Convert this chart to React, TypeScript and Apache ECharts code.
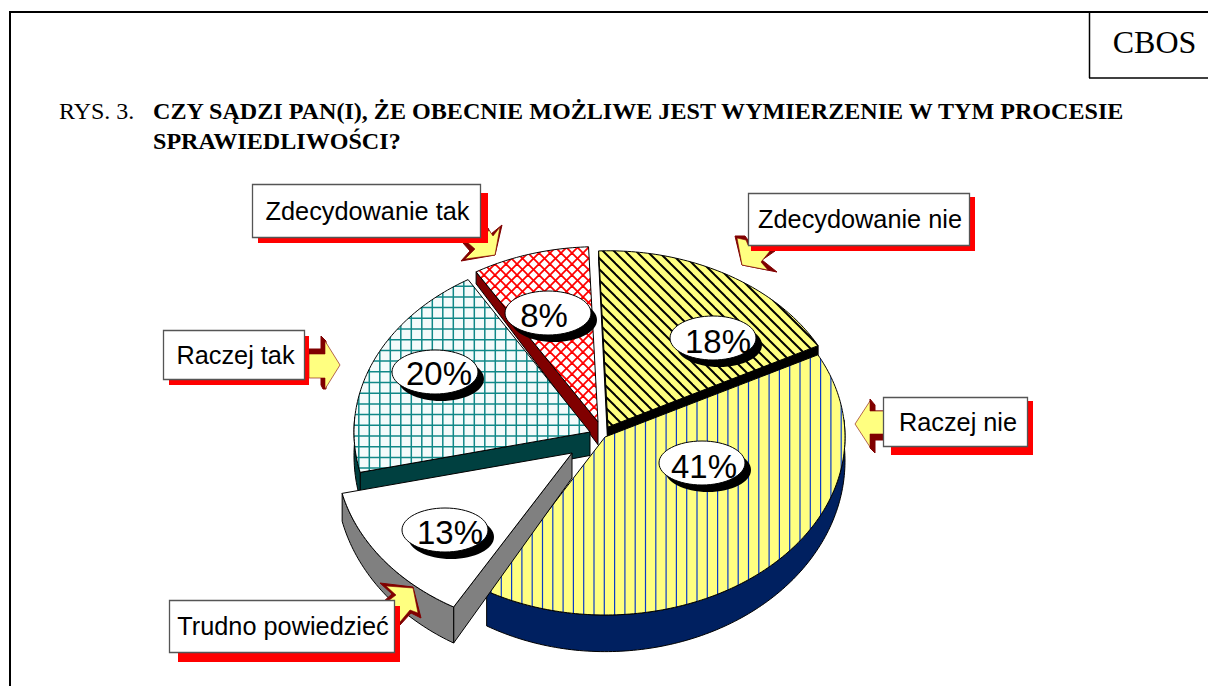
import React, { useEffect, useRef } from "react";
import * as echarts from "echarts";

const categories = ["Zdecydowanie nie", "Raczej nie", "Trudno powiedzieć", "Raczej tak", "Zdecydowanie tak"];
const values = [18, 41, 13, 20, 8];
const titleLabel = "RYS. 3.";
const titleLines = [
  "CZY SĄDZI PAN(I), ŻE OBECNIE MOŻLIWE JEST WYMIERZENIE W TYM PROCESIE",
  "SPRAWIEDLIWOŚCI?",
];
const sourceLabel = "CBOS";

const W = 1208;
const H = 686;
const CX = 605;
const CY = 437;
const RX_RIGHT = 240;
const RX_LEFT = 236;
const RY = 178;
const START_DEG = -2.3;
const explode = [[3, -10], [0, 0], [-33, 16], [-15, -5], [-7, -15]];
const radiusScale = [[0.987, 0.99], [1, 1], [1, 1], [1, 1], [1, 0.985]];
const drawOrder = [0, 4, 3, 1, 2];
const wallColors = ["#000000", "#002060", "#808080", "#004040", "#800000"];
const labelCentres = [[713, 338], [702, 463], [445, 530], [435, 372], [548, 313]];
const labelTextShift = [[5, 3], [2, 3], [5, 2], [4, 1], [-4, 2]];
const boxTextShift = [1.5, 3, 1.5, 2, 1.5];

function makeCanvas(w: number, h: number, bg: string) {
  const c = document.createElement("canvas");
  c.width = w;
  c.height = h;
  const g = c.getContext("2d")!;
  g.fillStyle = bg;
  g.fillRect(0, 0, w, h);
  return { c, g };
}
function pattern(c: HTMLCanvasElement) {
  return { image: c, repeat: "repeat", imageWidth: c.width, imageHeight: c.height } as any;
}
function hatchPattern() {
  const s = 11;
  const { c, g } = makeCanvas(s, s, "#FFFF80");
  g.strokeStyle = "#000000";
  g.lineWidth = 2;
  for (const k of [-s, 0, s]) {
    g.beginPath();
    g.moveTo(k - 1, -1);
    g.lineTo(k + s + 1, s + 1);
    g.stroke();
  }
  return pattern(c);
}
function verticalPattern() {
  const w = 103;
  const { c, g } = makeCanvas(w, 8, "#FFFF80");
  g.strokeStyle = "#0A3CC8";
  g.lineWidth = 1.2;
  for (let i = 0; i < 10; i++) {
    const x = 6.9 + i * 10.3;
    g.beginPath();
    g.moveTo(x, 0);
    g.lineTo(x, 8);
    g.stroke();
  }
  return pattern(c);
}
function gridPattern() {
  const w = 105;
  const h = 107;
  const { c, g } = makeCanvas(w, h, "#F4FBFB");
  g.strokeStyle = "#108888";
  g.lineWidth = 1.5;
  for (let i = 0; i < 10; i++) {
    const x = 1.8 + i * 10.5;
    g.beginPath();
    g.moveTo(x, 0);
    g.lineTo(x, h);
    g.stroke();
    const y = 8 + i * 10.7;
    g.beginPath();
    g.moveTo(0, y);
    g.lineTo(w, y);
    g.stroke();
  }
  return pattern(c);
}
function crossPattern() {
  const s = 11;
  const { c, g } = makeCanvas(s, s, "#FFFFFF");
  g.strokeStyle = "#FF0000";
  g.lineWidth = 1.8;
  for (const k of [-s, 0, s]) {
    g.beginPath();
    g.moveTo(k - 1, -1);
    g.lineTo(k + s + 1, s + 1);
    g.stroke();
    g.beginPath();
    g.moveTo(k - 1, s + 1);
    g.lineTo(k + s + 1, -1);
    g.stroke();
  }
  return pattern(c);
}

const depthAt = (y: number) => 12 + (y - 273) * 0.072;

function sliceAngles() {
  const total = values.reduce((a, b) => a + b, 0);
  let acc = START_DEG;
  return values.map((v) => {
    const from = acc;
    acc += (v / total) * 360;
    return [from, acc];
  });
}

function rim(deg: number, i: number) {
  const t = (deg * Math.PI) / 180;
  const off = explode[i];
  const s = Math.sin(t);
  const rx = (s < 0 ? RX_LEFT : RX_RIGHT) * radiusScale[i][0];
  return [CX + off[0] + rx * s, CY + off[1] - RY * radiusScale[i][1] * Math.cos(t)];
}
const dropped = (p: number[]) => [p[0], p[1] + depthAt(p[1])];

// Callouts: [box x0, y0, x1, y1, shadow x0, y0, x1, y1]
const boxes = [
  [748, 193, 969, 245, 751, 197, 975, 251],
  [883, 397, 1027, 446, 891, 401, 1033, 455],
  [169, 600, 394, 652, 178, 606, 400, 662],
  [163, 330, 304, 379, 169, 336, 309, 385],
  [252, 184, 480, 237, 258, 193, 488, 243],
];
const arrowDark = [
  [[735, 236], [742, 265], [777, 272], [762, 260], [775, 251], [748, 240], [745, 236]],
  [[870, 399], [875, 405], [875, 411], [884, 411], [884, 440], [875, 440], [875, 453], [870, 448]],
  [[380, 583], [413, 587], [421, 618], [411, 613], [400, 625], [383, 602], [392, 594]],
  [[309, 349], [321, 349], [321, 336], [326, 341], [326, 389], [323, 389], [321, 385], [321, 377], [309, 377]],
  [[502, 225], [495, 255], [461, 261], [470, 251], [463, 243], [480, 238], [488, 228], [491, 234]],
];
const arrowLight = [
  [[737, 238], [742, 265], [768, 270], [761, 262], [770, 251], [748, 245], [746, 240]],
  [[855, 424], [870, 401], [870, 411], [884, 411], [884, 434], [870, 434], [870, 447]],
  [[386, 586], [413, 588], [418, 613], [410, 610], [400, 622], [388, 601], [396, 595]],
  [[309, 354], [325, 354], [325, 341], [340, 365], [325, 389], [325, 378], [309, 378]],
  [[500, 227], [495, 255], [465, 259], [475, 249], [467, 242], [483, 238], [489, 230], [493, 236]],
];

export default function App() {
  const ref = useRef<HTMLDivElement>(null);
  useEffect(() => {
    const chart = echarts.init(ref.current!, undefined, { renderer: "svg", width: W, height: H });
    const angles = sliceAngles();
    const fills: any[] = [hatchPattern(), verticalPattern(), "#FFFFFF", gridPattern(), crossPattern()];

    const renderItem = (params: any, api: any) => {
      const i = params.dataIndex;
      const v = api.value(0);
      const off = explode[i];
      const [a0, a1] = angles[i];
      const apex = [CX + off[0], CY + off[1]];
      const rank = drawOrder.indexOf(i) * 10;
      const steps = Math.max(6, Math.round(a1 - a0));
      const arc: number[][] = [];
      for (let s = 0; s <= steps; s++) arc.push(rim(a0 + ((a1 - a0) * s) / steps, i));
      const children: any[] = [];
      const wallStyle = { fill: wallColors[i], stroke: "#000000", lineWidth: 1 };
      const radial = (deg: number) => {
        const p = rim(deg, i);
        children.push({
          type: "polygon",
          z2: rank + 1,
          shape: { points: [apex, p, dropped(p), dropped(apex)] },
          style: wallStyle,
        });
      };
      if (Math.sin((a0 * Math.PI) / 180) < 0) radial(a0);
      if (Math.sin((a1 * Math.PI) / 180) > 0) radial(a1);
      // outer wall, only where the rim faces the viewer
      const front: number[][] = [];
      for (let s = 0; s <= steps; s++) {
        const d = a0 + ((a1 - a0) * s) / steps;
        if (Math.cos((d * Math.PI) / 180) < 0.1) front.push(rim(d, i));
      }
      if (front.length > 1) {
        children.push({
          type: "polygon",
          z2: rank + 2,
          shape: { points: [...front, ...front.slice().reverse().map(dropped)] },
          style: wallStyle,
        });
      }
      children.push({
        type: "polygon",
        z2: rank + 3,
        shape: { points: [apex, ...arc] },
        style: { fill: fills[i], stroke: "#000000", lineWidth: 1 },
      });
      const [lx, ly] = labelCentres[i];
      children.push({
        type: "ellipse",
        z2: 100,
        shape: { cx: lx + 6, cy: ly + 7, rx: 43, ry: 22 },
        style: { fill: "#000000" },
      });
      children.push({
        type: "ellipse",
        z2: 101,
        shape: { cx: lx, cy: ly, rx: 43, ry: 22 },
        style: { fill: "#FFFFFF", stroke: "#000000", lineWidth: 1 },
      });
      children.push({
        type: "text",
        z2: 102,
        x: lx + labelTextShift[i][0],
        y: ly + labelTextShift[i][1],
        scaleX: 0.97,
        style: {
          text: `${v}%`,
          x: 0,
          y: 0,
          fill: "#000000",
          font: '34px "Liberation Sans", Arial, sans-serif',
          textAlign: "center",
          textVerticalAlign: "middle",
        },
      });
      return { type: "group", children };
    };

    const graphics: any[] = [];
    const add = (e: any) => graphics.push({ silent: true, ...e });
    add({ type: "line", shape: { x1: 10, y1: 12, x2: W, y2: 12 }, style: { stroke: "#000", lineWidth: 2 } });
    add({ type: "line", shape: { x1: 10, y1: 11, x2: 10, y2: H }, style: { stroke: "#000", lineWidth: 2 } });
    add({ type: "line", shape: { x1: 1089.5, y1: 12, x2: 1089.5, y2: 78 }, style: { stroke: "#000", lineWidth: 1.5 } });
    add({ type: "line", shape: { x1: 1089, y1: 78, x2: W, y2: 78 }, style: { stroke: "#000", lineWidth: 1.5 } });
    const serif = '"Liberation Serif", "Times New Roman", serif';
    add({
      type: "text",
      x: 1154.5,
      y: 42,
      style: { text: sourceLabel, fill: "#000", font: `32px ${serif}`, textAlign: "center", textVerticalAlign: "middle" },
    });
    add({
      type: "text",
      x: 59,
      y: 111,
      style: { text: titleLabel, fill: "#000", font: `24px ${serif}`, textAlign: "left", textVerticalAlign: "middle" },
    });
    titleLines.forEach((line, i) => {
      add({
        type: "text",
        x: 153,
        y: 111 + i * 30,
        style: { text: line, fill: "#000", font: `bold 24.1px ${serif}`, textAlign: "left", textVerticalAlign: "middle" },
      });
    });
    categories.forEach((name, i) => {
      const b = boxes[i];
      add({ type: "polygon", z: 10, shape: { points: arrowDark[i] }, style: { fill: "#800000", stroke: "#800000", lineWidth: 1 } });
      add({ type: "polygon", z: 10, shape: { points: arrowLight[i] }, style: { fill: "#FFFF80", stroke: "#800000", lineWidth: 0.6 } });
      add({ type: "rect", z: 10, shape: { x: b[4], y: b[5], width: b[6] - b[4], height: b[7] - b[5] }, style: { fill: "#FF0000" } });
      add({
        type: "rect",
        z: 10,
        shape: { x: b[0] + 0.5, y: b[1] + 0.5, width: b[2] - b[0], height: b[3] - b[1] },
        style: { fill: "#FFFFFF", stroke: "#555555", lineWidth: 1.3 },
      });
      add({
        type: "text",
        z: 10,
        x: (b[0] + b[2]) / 2 + boxTextShift[i],
        y: (b[1] + b[3]) / 2,
        style: { text: name, fill: "#000", font: '25.3px "Liberation Sans", Arial, sans-serif', textAlign: "center", textVerticalAlign: "middle" },
      });
    });

    chart.setOption({
      animation: false,
      backgroundColor: "#FFFFFF",
      graphic: { elements: graphics },
      series: [
        {
          type: "custom",
          coordinateSystem: "none",
          silent: true,
          clip: false,
          renderItem,
          data: values.map((v, i) => ({ name: categories[i], value: [v] })),
        },
      ],
    });
    return () => chart.dispose();
  }, []);
  return <div ref={ref} style={{ position: "absolute", left: 0, top: 0, width: W, height: H, overflow: "hidden" }} />;
}
